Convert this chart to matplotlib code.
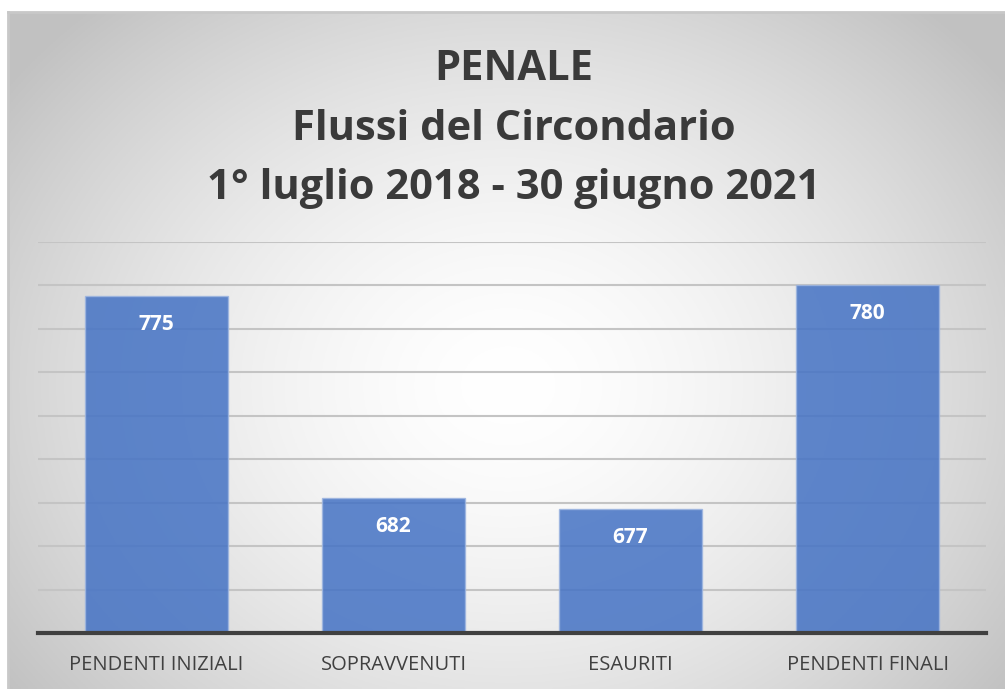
import matplotlib.pyplot as plt
import numpy as np

# data
categories = ["PENDENTI INIZIALI", "SOPRAVVENUTI", "ESAURITI", "PENDENTI FINALI"]
values = [775, 682, 677, 780]
title = "PENALE\nFlussi del Circondario\n1° luglio 2018 - 30 giugno 2021"

W, H = 1005, 689
fig = plt.figure(figsize=(W / 100, H / 100), dpi=100)
fig.patch.set_facecolor("white")

# background frame with radial gradient
bg = fig.add_axes([8 / W, 0, 1 - 8 / W, (H - 12) / H])
ny, nx = 300, 400
yy, xx = np.mgrid[0:ny, 0:nx]
cx, cy = nx * 0.5, ny * 0.55
r = np.sqrt(((xx - cx) / (nx * 0.62)) ** 2 + ((yy - cy) / (ny * 0.75)) ** 2)
g = np.clip(1.0 - 0.24 * r ** 1.6, 0.76, 1.0)
bg.imshow(np.dstack([g, g, g]), aspect="auto", extent=[0, 1, 0, 1])
bg.set_axis_off()
bg.plot([0, 0], [0, 1], color="#c8c8c8", lw=2, transform=bg.transAxes, clip_on=False)
bg.plot([0, 1], [1, 1], color="#c8c8c8", lw=2, transform=bg.transAxes, clip_on=False)

ax = fig.add_axes([38 / W, (H - 633) / H, (986 - 38) / W, (633 - 242) / H])
ax.patch.set_alpha(0)
x = np.arange(len(categories))
ax.set_ylim(620, 800)
ax.set_xlim(-0.5, 3.5)
ax.set_yticks(np.arange(620, 801, 20))
ax.yaxis.grid(True, color="#c4c4c4", lw=1.5)
ax.set_axisbelow(True)
bars = ax.bar(x, values, width=0.6, color="#4472C4", alpha=0.85,
              edgecolor="#9db5e0", linewidth=1, zorder=2)
for xi, v in zip(x, values):
    ax.text(xi, v - 13, str(v), ha="center", va="center", color="white",
            fontsize=15, fontweight="bold", family="Open Sans", zorder=3)
for s in ["left", "right", "top"]:
    ax.spines[s].set_visible(False)
ax.spines["bottom"].set_color("#404040")
ax.spines["bottom"].set_linewidth(3)
ax.tick_params(axis="y", left=False, labelleft=False)
ax.tick_params(axis="x", length=0, pad=16)
ax.set_xticks(x)
ax.set_xticklabels(categories, fontsize=14.5, color="#404040", family="Open Sans")

fig.text(0.511, 1 - 129 / H, title, ha="center", va="center", fontsize=30,
         fontweight="bold", color="#3a3a3a", family="Open Sans", linespacing=1.6)

fig.savefig("out.png", dpi=100)
